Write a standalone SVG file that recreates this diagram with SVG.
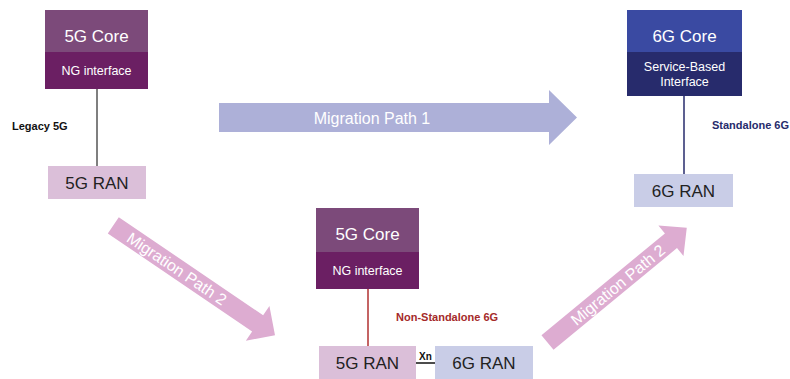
<svg xmlns="http://www.w3.org/2000/svg" width="790" height="379" viewBox="0 0 790 379">
<style>
text{font-family:"Liberation Sans",Arial,sans-serif}
.core5{fill:#7c4a7a}
.ng5{fill:#6b1f63}
.ran5{fill:#dbbfd9}
.core6{fill:#3a4aa2}
.sbi6{fill:#272b6c}
.ran6{fill:#c9cde7}
.big{font-size:17px;fill:#fff;text-anchor:middle}
.small{font-size:12.5px;fill:#fff;text-anchor:middle}
.ran{font-size:17px;fill:#222;text-anchor:middle}
.lbl{font-size:11px;font-weight:bold}
.arr1{fill:#adb0d8}
.arr2{fill:#ddacd1}
.arrt{font-size:16px;fill:#fff;text-anchor:middle}
</style>
<rect width="790" height="379" fill="#fff"/>
<g id="connectors">
<line x1="97" y1="89" x2="97" y2="166" stroke="#555" stroke-width="1.5"/>
<line x1="684" y1="96" x2="684" y2="174" stroke="#272b6c" stroke-width="1.5"/>
<line x1="368" y1="289" x2="368" y2="346" stroke="#b03030" stroke-width="1.5"/>
<line x1="416" y1="363" x2="435" y2="363" stroke="#111" stroke-width="1.5"/>
<text x="425.5" y="359.5" font-size="10" font-weight="bold" text-anchor="middle" fill="#111">Xn</text>
</g>
<g id="arrow-path1">
<polygon class="arr1" points="219,103 549,103 549,90 577,117.5 549,145 549,132 219,132"/>
<text class="arrt" x="372" y="123.5">Migration Path 1</text>
</g>
<g id="arrow-path2-down" transform="translate(113.3,225.3) rotate(34.2)">
<polygon class="arr2" points="0,-9.8 174.5,-9.8 174.5,-21 195.5,0 174.5,21 174.5,9.8 0,9.8"/>
<text class="arrt" x="77" y="5.8">Migration Path 2</text>
</g>
<g id="arrow-path2-up" transform="translate(547.5,342.5) rotate(-39.5)">
<polygon class="arr2" points="0,-9.5 160,-9.5 160,-19.7 180.5,0 160,19.7 160,9.5 0,9.5"/>
<text class="arrt" x="91" y="5.8">Migration Path 2</text>
</g>
<g id="legacy-5g-core">
<rect class="core5" x="45" y="10" width="103" height="42"/>
<rect class="ng5" x="45" y="52" width="103" height="37"/>
<text class="big" x="96.5" y="42">5G Core</text>
<text class="small" x="96.5" y="75">NG interface</text>
</g>
<g id="legacy-5g-ran">
<rect class="ran5" x="48" y="166" width="98" height="33"/>
<text class="ran" x="97" y="189">5G RAN</text>
</g>
<text class="lbl" x="12" y="130" fill="#111">Legacy 5G</text>
<g id="sa-6g-core">
<rect class="core6" x="627" y="10" width="115" height="42"/>
<rect class="sbi6" x="627" y="52" width="115" height="44"/>
<text class="big" x="684.5" y="42">6G Core</text>
<text class="small" x="684.5" y="71">Service-Based</text>
<text class="small" x="684.5" y="86">Interface</text>
</g>
<g id="sa-6g-ran">
<rect class="ran6" x="634" y="174" width="99" height="33"/>
<text class="ran" x="683.5" y="197">6G RAN</text>
</g>
<text class="lbl" x="712" y="129" fill="#272b6c">Standalone 6G</text>
<g id="nsa-5g-core">
<rect class="core5" x="316" y="208" width="103" height="44"/>
<rect class="ng5" x="316" y="252" width="103" height="37"/>
<text class="big" x="367.5" y="240">5G Core</text>
<text class="small" x="367.5" y="275">NG interface</text>
</g>
<g id="nsa-5g-ran">
<rect class="ran5" x="319" y="346" width="97" height="33"/>
<text class="ran" x="367.5" y="369">5G RAN</text>
</g>
<g id="nsa-6g-ran">
<rect class="ran6" x="435" y="346" width="98" height="33"/>
<text class="ran" x="484" y="369">6G RAN</text>
</g>
<text class="lbl" x="396" y="321" fill="#a52a2a">Non-Standalone 6G</text>
</svg>
